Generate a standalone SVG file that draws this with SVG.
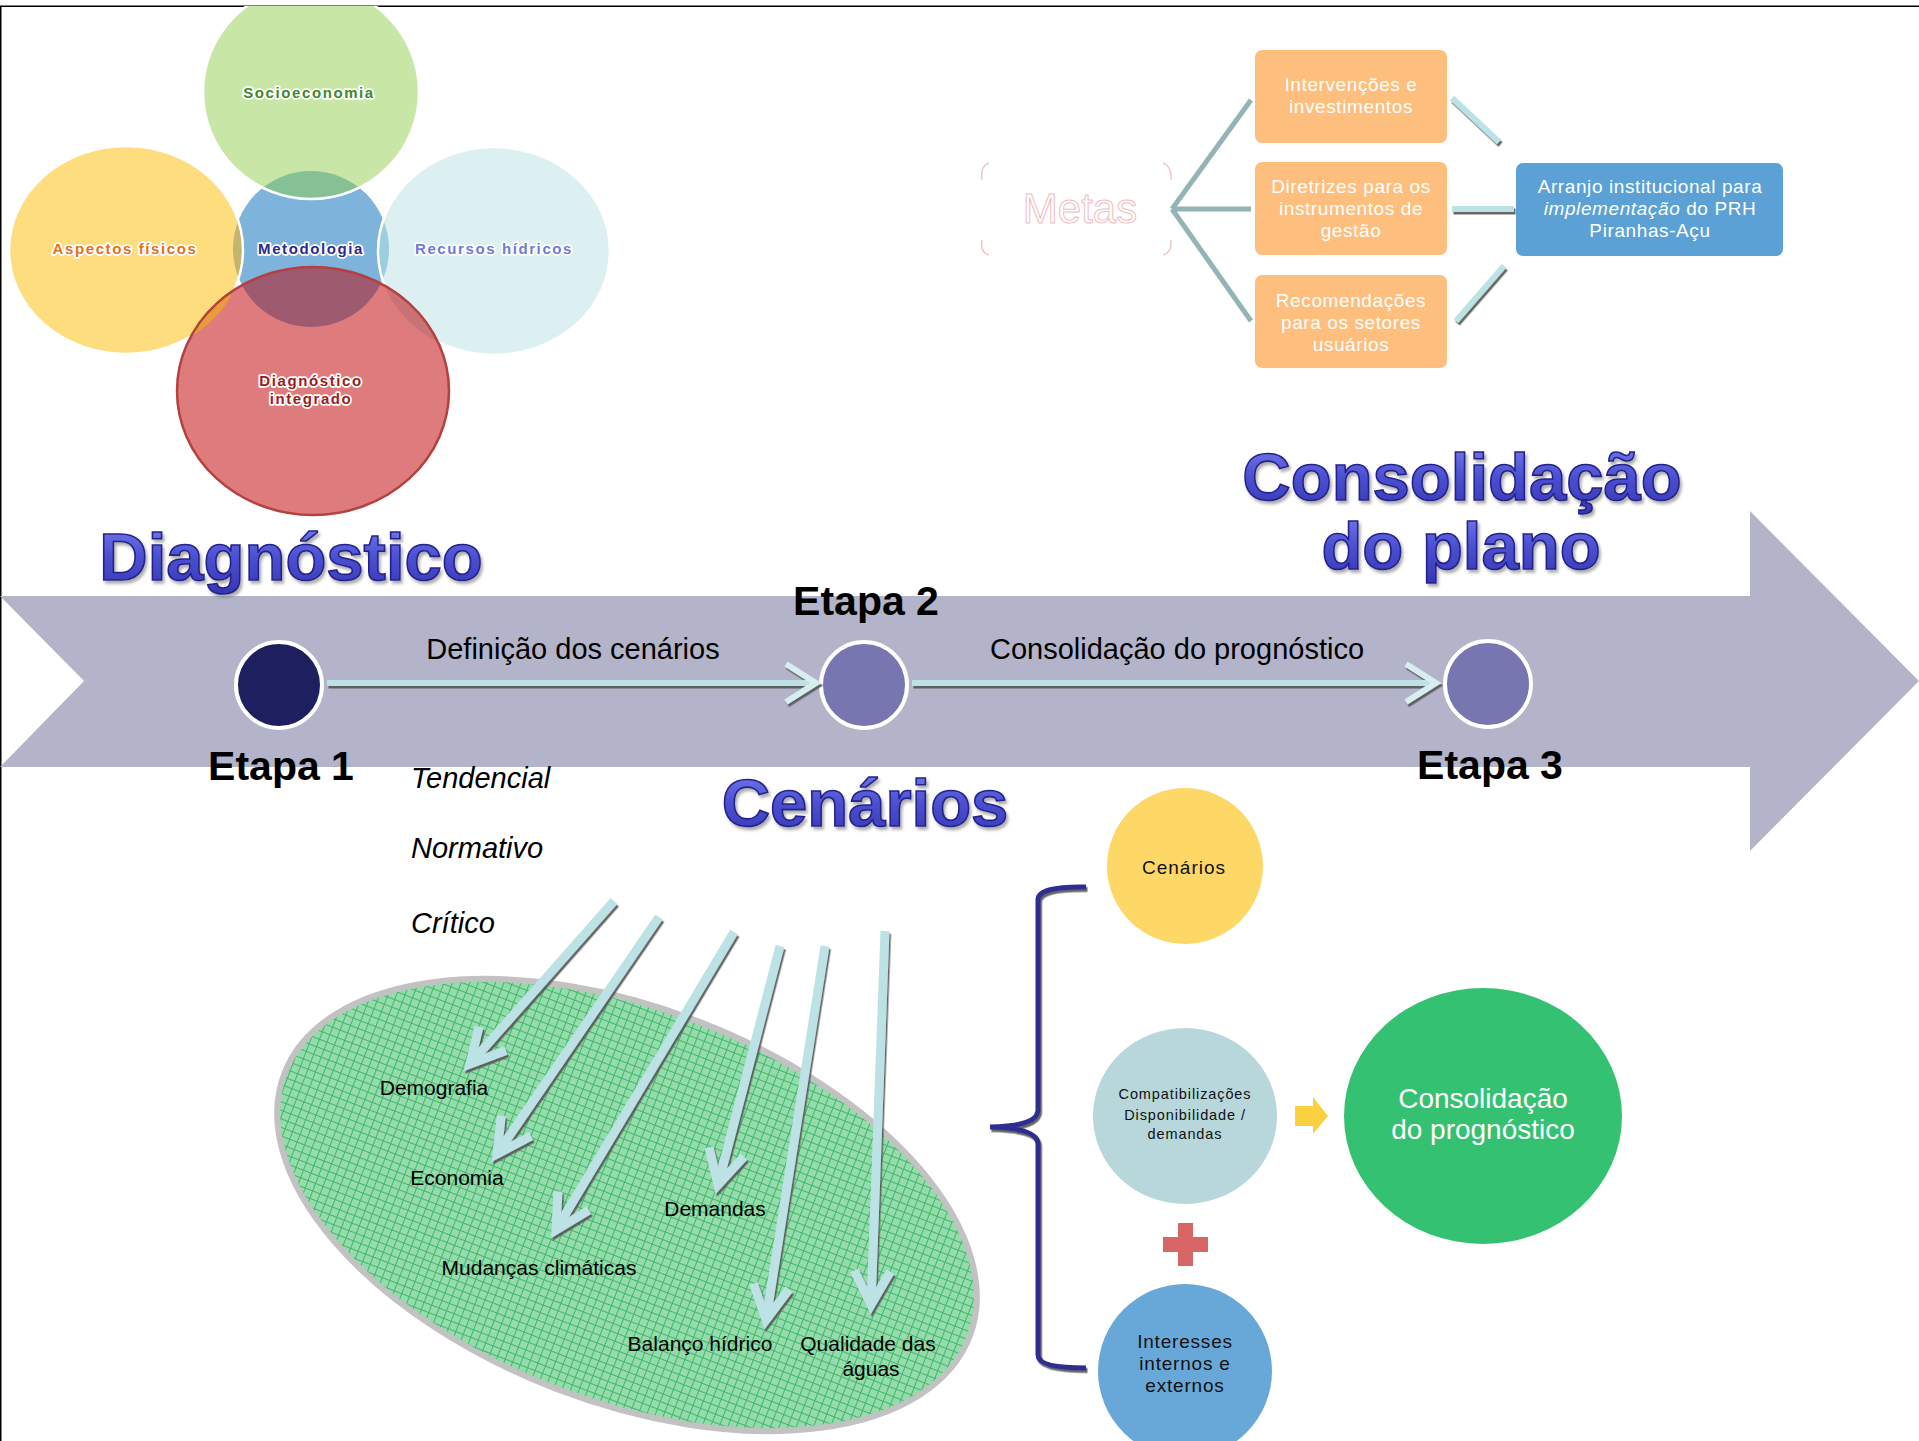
<svg xmlns="http://www.w3.org/2000/svg" width="1919" height="1441" viewBox="0 0 1919 1441">
<style>
  text{font-family:"Liberation Sans",Arial,sans-serif}
  .venn{font-size:15px;font-weight:bold;letter-spacing:1.6px;text-anchor:middle;paint-order:stroke;stroke:#fff;stroke-width:3.5px;stroke-linejoin:round}
  .wa{font-size:67px;font-weight:bold;fill:url(#waGrad);stroke:#23238a;stroke-width:1.6px;text-anchor:middle;filter:url(#waSh)}
  .etapa{font-size:41px;font-weight:bold;fill:#000;text-anchor:middle}
  .lbl{font-size:29px;fill:#000;text-anchor:middle}
  .ital{font-size:29px;font-style:italic;fill:#000}
  .ell{font-size:21px;fill:#000;text-anchor:middle}
  .box{font-size:19px;fill:#fff;text-anchor:middle;letter-spacing:0.6px}
  .circ{fill:#111;text-anchor:middle}
  .cyan{stroke:#bde2e5;fill:none}
</style>
<defs>
  <linearGradient id="waGrad" x1="0" y1="0" x2="0" y2="1">
    <stop offset="0" stop-color="#7b80f0"/>
    <stop offset="0.5" stop-color="#4c50d2"/>
    <stop offset="1" stop-color="#3536b4"/>
  </linearGradient>
  <filter id="waSh" x="-10%" y="-20%" width="120%" height="150%">
    <feDropShadow dx="2" dy="3" stdDeviation="1.5" flood-color="#777" flood-opacity="0.6"/>
  </filter>
  <filter id="sh" filterUnits="userSpaceOnUse" x="0" y="0" width="1919" height="1441">
    <feDropShadow dx="1.5" dy="2.5" stdDeviation="0.6" flood-color="#555" flood-opacity="0.9"/>
  </filter>
  <pattern id="grid" width="8" height="8" patternUnits="userSpaceOnUse">
    <rect width="8" height="8" fill="#96dbab"/>
    <path d="M0,0.5H8M0.5,0V8" stroke="#3db86a" stroke-width="1"/>
  </pattern>
  <marker id="chevL" markerUnits="userSpaceOnUse" viewBox="-45 -30 55 60" markerWidth="55" markerHeight="60" refX="0" refY="0" orient="auto" overflow="visible">
    <path d="M-34,-18L0,0L-34,18" fill="none" stroke="#bde2e5" stroke-width="9" stroke-linejoin="miter"/>
  </marker>
  <marker id="chevS" markerUnits="userSpaceOnUse" viewBox="-45 -30 55 60" markerWidth="55" markerHeight="60" refX="0" refY="0" orient="auto" overflow="visible">
    <path d="M-30,-19L0,0L-30,19" fill="none" stroke="#d6eeef" stroke-width="6" stroke-linejoin="miter"/>
  </marker>
  <clipPath id="cBlue"><circle cx="311" cy="249" r="78"/></clipPath>
  <clipPath id="cRed"><ellipse cx="313" cy="391" rx="136" ry="124"/></clipPath>
  <clipPath id="cTop"><rect x="0" y="6" width="1919" height="1435"/></clipPath>
</defs>

<rect width="1919" height="1441" fill="#fff"/>
<path d="M0.75,1441V6.25H1919" fill="none" stroke="#000" stroke-width="1.5"/>

<!-- Venn diagram -->
<g id="venn">
  <circle cx="311" cy="249" r="78" fill="#7eb4dc"/>
  <g id="aspectos">
    <ellipse cx="126" cy="250" rx="117" ry="104" fill="#fedd7e"/>
    <ellipse cx="126" cy="250" rx="117" ry="104" fill="#c4b46c" clip-path="url(#cBlue)"/>
    <ellipse cx="126" cy="250" rx="117" ry="104" fill="none" stroke="#fff" stroke-width="2.5"/>
  </g>
  <g id="recursos">
    <ellipse cx="494" cy="251" rx="116" ry="104" fill="#dcf0f2"/>
    <ellipse cx="494" cy="251" rx="116" ry="104" fill="#9dcde0" clip-path="url(#cBlue)"/>
    <ellipse cx="494" cy="251" rx="116" ry="104" fill="none" stroke="#fff" stroke-width="2.5"/>
  </g>
  <g id="socio" clip-path="url(#cTop)">
    <ellipse cx="311" cy="92" rx="108" ry="107" fill="#c8e6a6"/>
    <ellipse cx="311" cy="92" rx="108" ry="107" fill="#86c196" clip-path="url(#cBlue)"/>
    <ellipse cx="311" cy="92" rx="108" ry="107" fill="none" stroke="#fff" stroke-width="2.5"/>
  </g>
  <g id="diagint">
    <ellipse cx="313" cy="391" rx="136" ry="124" fill="#de7b7c"/>
    <g clip-path="url(#cRed)">
      <circle cx="311" cy="249" r="78" fill="#9e5a6e"/>
      <ellipse cx="126" cy="250" rx="117" ry="104" fill="#e89c3a"/>
      <ellipse cx="494" cy="251" rx="116" ry="104" fill="#cb7276"/>
    </g>
    <ellipse cx="313" cy="391" rx="136" ry="124" fill="none" stroke="#b4403f" stroke-width="2.5"/>
  </g>
  <text class="venn" x="309" y="98" fill="#3d8a2a" font-size="16" letter-spacing="2">Socioeconomia</text>
  <text class="venn" x="125" y="254" fill="#e0711b">Aspectos físicos</text>
  <text class="venn" x="311" y="254" fill="#2b2b8f">Metodologia</text>
  <text class="venn" x="494" y="254" fill="#6d7cd8">Recursos hídricos</text>
  <text class="venn" x="311" y="386" fill="#9b1c1c">Diagnóstico</text>
  <text class="venn" x="311" y="404" fill="#9b1c1c">integrado</text>
</g>

<!-- Big arrow band -->
<g id="band">
  <path d="M0,596H1750V511L1919,681L1750,851V767H0L84,681Z" fill="#b3b4c9"/>
</g>

<!-- Titles -->
<g id="titles">
  <text class="wa" x="291" y="580">Diagnóstico</text>
  <text class="wa" x="1462" y="500">Consolidação</text>
  <text class="wa" x="1461" y="569">do plano</text>
  <text class="wa" x="865" y="826">Cenários</text>
</g>

<!-- Steps -->
<g id="etapa1">
  <circle cx="279" cy="685" r="43" fill="#1e1f5e" stroke="#fff" stroke-width="4"/>
  <text class="etapa" x="281" y="780">Etapa 1</text>
</g>
<g id="etapa2">
  <circle cx="864" cy="685" r="43" fill="#7776b1" stroke="#fff" stroke-width="4"/>
  <text class="etapa" x="866" y="615">Etapa 2</text>
</g>
<g id="etapa3">
  <circle cx="1488" cy="684" r="43" fill="#7776b1" stroke="#fff" stroke-width="4"/>
  <text class="etapa" x="1490" y="779">Etapa 3</text>
</g>

<!-- Metas / outputs -->
<g id="metas">
  <path d="M982,180Q980,166 989,163M1163,163Q1172,166 1171,180M982,240Q980,253 989,255M1163,255Q1172,253 1171,240" fill="none" stroke="#f2c6c6" stroke-width="1.5"/>
  <text x="1080" y="223" font-size="42" fill="#fff" stroke="#eebdbd" stroke-width="1" text-anchor="middle">Metas</text>
</g>
<g id="intervencoes">
  <rect x="1255" y="50" width="192" height="93" rx="7" fill="#fdbe7e"/>
  <text class="box" x="1351" y="91">Intervenções e</text>
  <text class="box" x="1351" y="113">investimentos</text>
</g>
<g id="diretrizes">
  <rect x="1255" y="162" width="192" height="93" rx="7" fill="#fdbe7e"/>
  <text class="box" x="1351" y="193">Diretrizes para os</text>
  <text class="box" x="1351" y="215">instrumentos de</text>
  <text class="box" x="1351" y="237">gestão</text>
</g>
<g id="recomendacoes">
  <rect x="1255" y="275" width="192" height="93" rx="7" fill="#fdbe7e"/>
  <text class="box" x="1351" y="307">Recomendações</text>
  <text class="box" x="1351" y="329">para os setores</text>
  <text class="box" x="1351" y="351">usuários</text>
</g>
<g id="arranjo">
  <rect x="1516" y="163" width="267" height="93" rx="7" fill="#5ba1d6"/>
  <text class="box" x="1650" y="193">Arranjo institucional para</text>
  <text class="box" x="1650" y="215"><tspan font-style="italic">implementação</tspan> do PRH</text>
  <text class="box" x="1650" y="237">Piranhas-Açu</text>
</g>

<!-- Scenario ellipse -->
<g id="cenarios-ellipse">
  <ellipse cx="627" cy="1205" rx="367" ry="197" transform="rotate(21 627 1205)" fill="url(#grid)" stroke="#c2c2c2" stroke-width="6"/>
  <text class="ell" x="434" y="1095">Demografia</text>
  <text class="ell" x="457" y="1185">Economia</text>
  <text class="ell" x="539" y="1275">Mudanças climáticas</text>
  <text class="ell" x="715" y="1216">Demandas</text>
  <text class="ell" x="700" y="1351">Balanço hídrico</text>
  <text class="ell" x="868" y="1351">Qualidade das</text>
  <text class="ell" x="871" y="1376">águas</text>
</g>

<g id="tipos">
  <text class="ital" x="411" y="788">Tendencial</text>
  <text class="ital" x="411" y="858">Normativo</text>
  <text class="ital" x="411" y="933">Crítico</text>
</g>

<g id="step-labels">
  <text class="lbl" x="573" y="659">Definição dos cenários</text>
  <text class="lbl" x="1177" y="659">Consolidação do prognóstico</text>
</g>

<!-- Prognosis -->
<g id="brace">
  <path d="M1086,887Q1038,886 1038,900L1038,1110Q1038,1126 990,1127Q1038,1128 1038,1144L1038,1355Q1038,1368 1086,1368" fill="none" stroke="#2f2f90" stroke-width="5" filter="url(#sh)"/>
</g>
<g id="n-cenarios">
  <circle cx="1185" cy="866" r="78" fill="#fdd867"/>
  <text class="circ" x="1184" y="874" font-size="19" letter-spacing="1">Cenários</text>
</g>
<g id="n-compat">
  <ellipse cx="1185" cy="1116" rx="92" ry="88" fill="#b7d7da"/>
  <text class="circ" x="1185" y="1099" font-size="14.5" letter-spacing="0.9">Compatibilizações</text>
  <text class="circ" x="1185" y="1120" font-size="14.5" letter-spacing="0.9">Disponibilidade /</text>
  <text class="circ" x="1185" y="1139" font-size="14.5" letter-spacing="0.9">demandas</text>
</g>
<g id="plus">
  <path d="M1178,1223H1193V1237H1208V1252H1193V1266H1178V1252H1163V1237H1178Z" fill="#d96666"/>
</g>
<g id="n-interesses">
  <circle cx="1185" cy="1371" r="87" fill="#68a8d8"/>
  <text class="circ" x="1185" y="1348" font-size="19" letter-spacing="0.8">Interesses</text>
  <text class="circ" x="1185" y="1370" font-size="19" letter-spacing="0.8">internos e</text>
  <text class="circ" x="1185" y="1392" font-size="19" letter-spacing="0.8">externos</text>
</g>
<g id="yellow-arrow">
  <path d="M1295,1106H1313V1097L1328,1116L1313,1134V1126H1295Z" fill="#fdd03f"/>
</g>
<g id="n-consolidacao">
  <ellipse cx="1483" cy="1116" rx="139" ry="128" fill="#35c172"/>
  <text x="1483" y="1108" font-size="28" fill="#fff" text-anchor="middle">Consolidação</text>
  <text x="1483" y="1139" font-size="28" fill="#fff" text-anchor="middle">do prognóstico</text>
</g>

<!-- Connectors -->
<g id="connectors">
  <g filter="url(#sh)">
    <path class="cyan" d="M327,683H816" stroke="#d6eeef" stroke-width="6" marker-end="url(#chevS)"/>
    <path class="cyan" d="M912,683H1436" stroke="#d6eeef" stroke-width="6" marker-end="url(#chevS)"/>
  </g>
  <path d="M1172,209L1251,100M1172,209H1251M1172,209L1251,321" fill="none" stroke="#94b4b6" stroke-width="5" stroke-linejoin="round"/>
  <g filter="url(#sh)">
    <path class="cyan" d="M1452,98L1499,142" stroke-width="6"/>
    <path class="cyan" d="M1452,209H1514" stroke-width="6"/>
    <path class="cyan" d="M1456,321L1504,266" stroke-width="6"/>
  </g>
  <g filter="url(#sh)">
    <path class="cyan" d="M614,901L470,1064" stroke-width="9" marker-end="url(#chevL)"/>
    <path class="cyan" d="M659,917L497,1154" stroke-width="9" marker-end="url(#chevL)"/>
    <path class="cyan" d="M734,932L556,1230" stroke-width="9" marker-end="url(#chevL)"/>
    <path class="cyan" d="M780,946L718,1185" stroke-width="9" marker-end="url(#chevL)"/>
    <path class="cyan" d="M825,946L766,1320" stroke-width="9" marker-end="url(#chevL)"/>
    <path class="cyan" d="M885,931L871,1305" stroke-width="9" marker-end="url(#chevL)"/>
  </g>
</g>
</svg>
